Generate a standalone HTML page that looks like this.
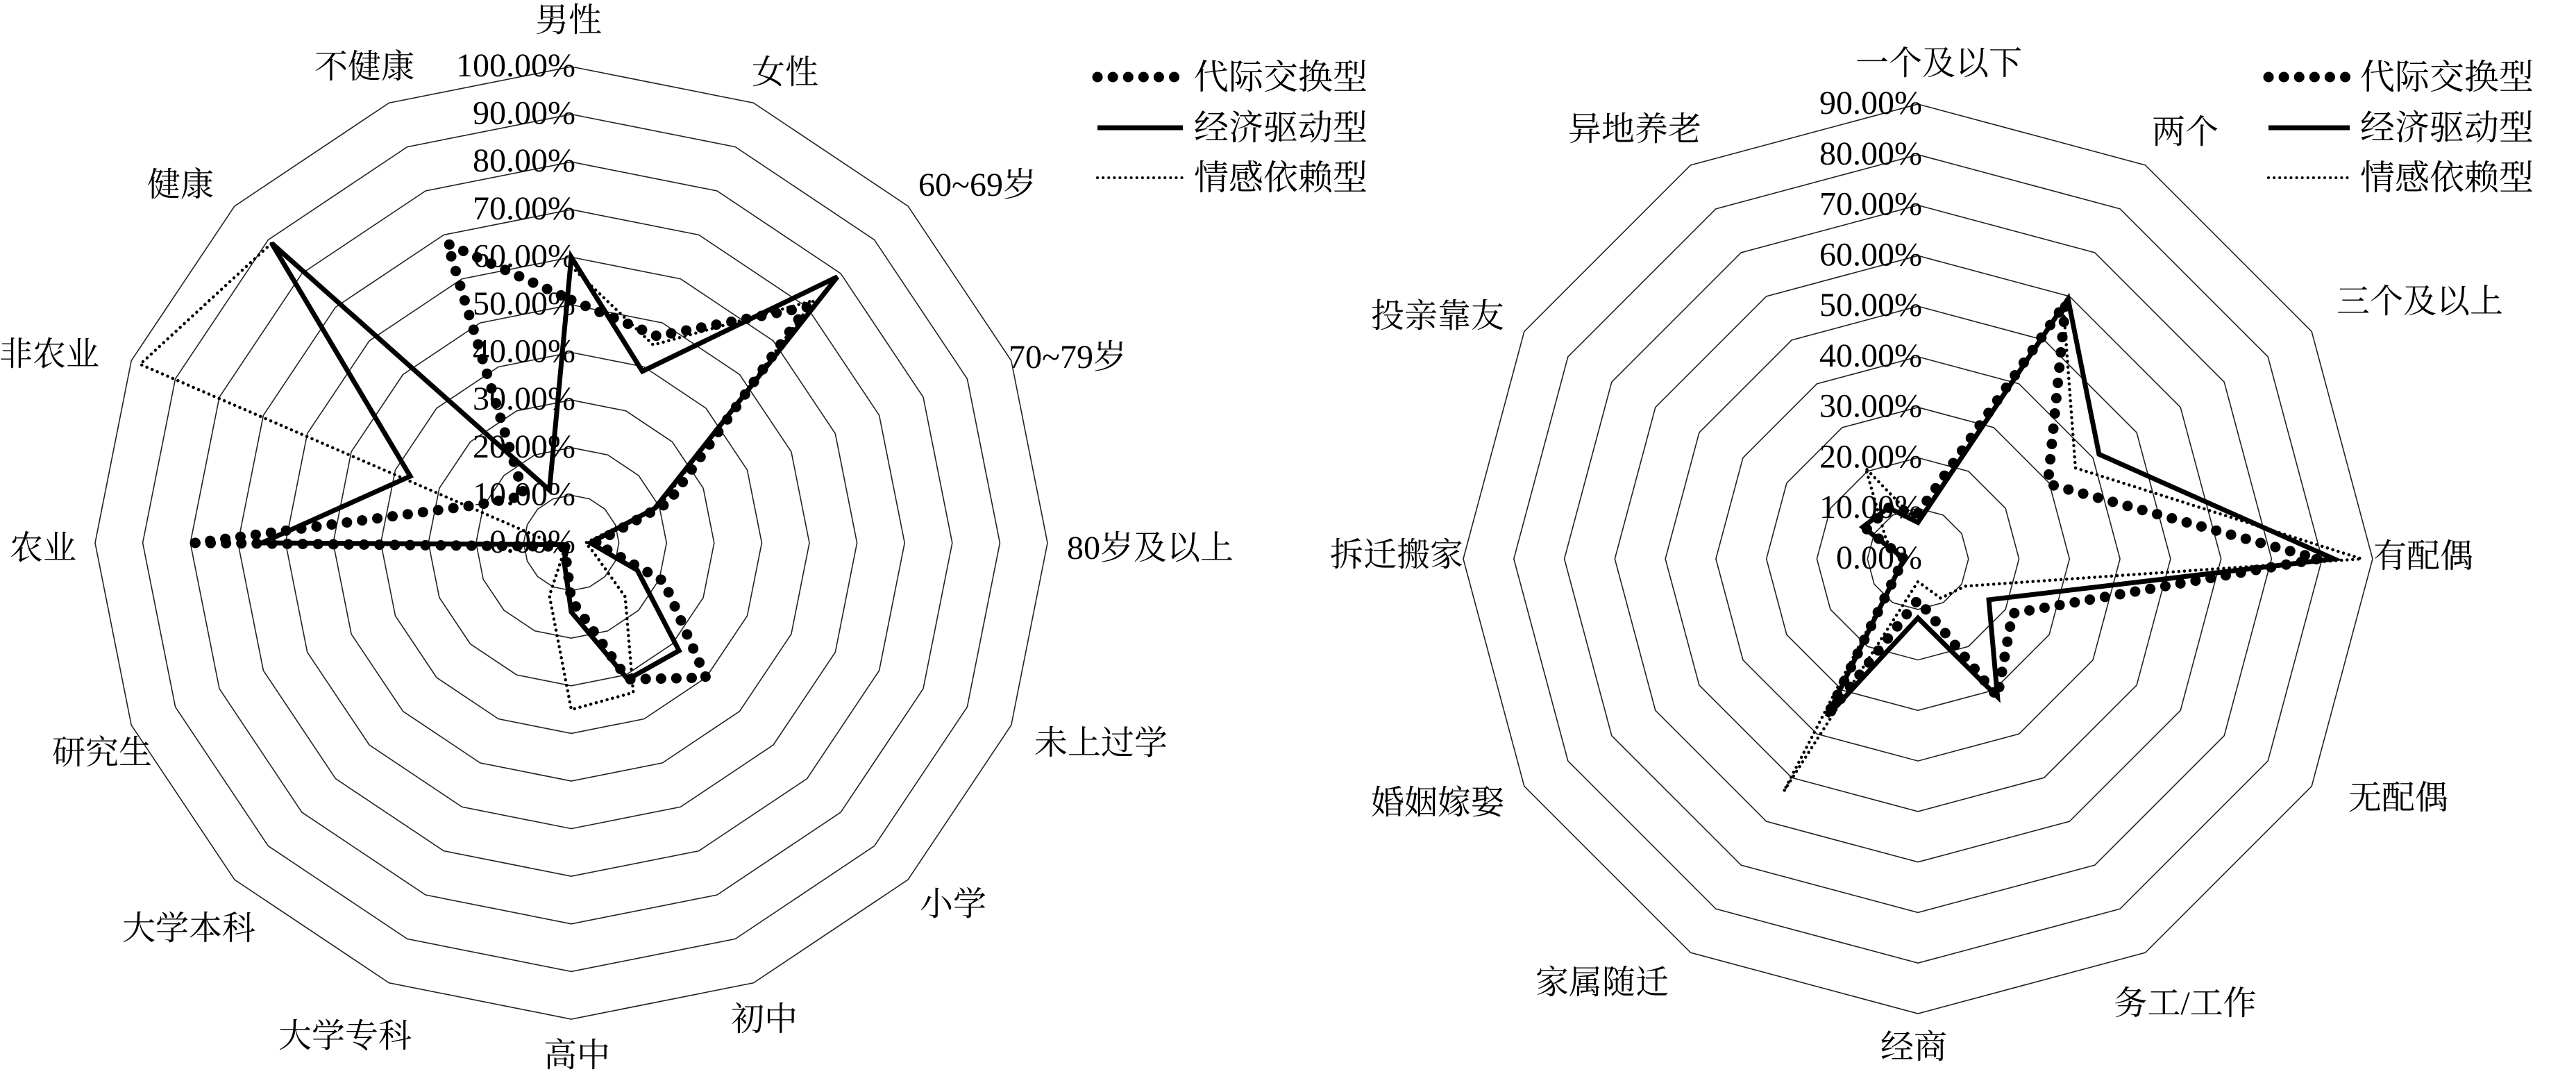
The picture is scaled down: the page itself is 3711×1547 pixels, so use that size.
<!DOCTYPE html>
<html><head><meta charset="utf-8"><style>
html,body{margin:0;padding:0;background:#fff;}
svg{display:block;}
text{font-family:"Liberation Serif","Noto Serif CJK SC","Noto Sans CJK SC",serif;fill:#000;}
</style></head><body>
<svg id="s" xmlns="http://www.w3.org/2000/svg" width="3711" height="1547" viewBox="0 0 3711 1547">
<rect width="3711" height="1547" fill="#fff"/>
<g id="grid"></g>
<g id="series"></g>
<g font-size="48" text-anchor="middle">
<text x="819" y="45">男性</text>
<text x="1131" y="120">女性</text>
<text x="1408" y="282">60~69岁</text>
<text x="1538" y="530">70~79岁</text>
<text x="1657" y="805">80岁及以上</text>
<text x="1586" y="1086">未上过学</text>
<text x="1373" y="1318">小学</text>
<text x="1101" y="1484">初中</text>
<text x="831" y="1536">高中</text>
<text x="497" y="1508">大学专科</text>
<text x="272" y="1353">大学本科</text>
<text x="147" y="1100">研究生</text>
<text x="62" y="805">农业</text>
<text x="71" y="526">非农业</text>
<text x="260" y="282">健康</text>
<text x="525" y="112">不健康</text>

<text x="2793" y="107">一个及以下</text>
<text x="3148" y="206">两个</text>
<text x="3486" y="450">三个及以上</text>
<text x="3491" y="817">有配偶</text>
<text x="3455" y="1165">无配偶</text>
<text x="3148" y="1461">务工/工作</text>
<text x="2757" y="1524">经商</text>
<text x="2308" y="1431">家属随迁</text>
<text x="2071" y="1172">婚姻嫁娶</text>
<text x="2012" y="815">拆迁搬家</text>
<text x="2071" y="471">投亲靠友</text>
<text x="2355" y="202">异地养老</text>
</g>
<g font-size="48" text-anchor="end" id="pl"></g>
<g id="legend">
<line x1="1581" y1="111" x2="1704" y2="111" stroke="#000" stroke-width="15" stroke-linecap="round" stroke-dasharray="0.1 22"/>
<line x1="1581" y1="184" x2="1704" y2="184" stroke="#000" stroke-width="7"/>
<line x1="1581" y1="256" x2="1704" y2="256" stroke="#000" stroke-width="4" stroke-linecap="round" stroke-dasharray="0.1 8"/>
<text x="1720" y="128" font-size="50">代际交换型</text>
<text x="1720" y="201" font-size="50">经济驱动型</text>
<text x="1720" y="273" font-size="50">情感依赖型</text>
<line x1="3268" y1="111" x2="3385" y2="111" stroke="#000" stroke-width="15" stroke-linecap="round" stroke-dasharray="0.1 22"/>
<line x1="3268" y1="184" x2="3385" y2="184" stroke="#000" stroke-width="7"/>
<line x1="3268" y1="256" x2="3385" y2="256" stroke="#000" stroke-width="4" stroke-linecap="round" stroke-dasharray="0.1 8"/>
<text x="3400" y="128" font-size="50">代际交换型</text>
<text x="3400" y="201" font-size="50">经济驱动型</text>
<text x="3400" y="273" font-size="50">情感依赖型</text>
</g>
</svg>
<script>
(function(){
var NS="http://www.w3.org/2000/svg";
var grid=document.getElementById("grid"),ser=document.getElementById("series"),pl=document.getElementById("pl");
function el(t,a,p){var e=document.createElementNS(NS,t);for(var k in a)e.setAttribute(k,a[k]);p.appendChild(e);return e;}
function pts(cx,cy,R,n,vals){var s=[];for(var i=0;i<n;i++){var a=i*2*Math.PI/n;var r=R*vals[i];s.push((cx+r*Math.sin(a)).toFixed(1)+","+(cy-r*Math.cos(a)).toFixed(1));}return s.join(" ");}
function chart(cx,cy,R,n,rings,labels,data){
  for(var k=1;k<=rings;k++){var v=[];for(var i=0;i<n;i++)v.push(k/rings);
    el("polygon",{points:pts(cx,cy,R,n,v),fill:"none",stroke:"#222","stroke-width":1.6},grid);}
  for(var k=0;k<=rings;k++){var t=el("text",{x:cx+6,y:cy-R*k/rings+14},pl);t.textContent=labels[k];}
  var st=[{s:"#000",w:15,d:"0.1 22",c:"round"},{s:"#000",w:7,d:"",c:"butt"},{s:"#000",w:4.5,d:"0.1 8",c:"round"}];
  // draw C, B, A
  [2,1,0].forEach(function(j){var o=st[j];var a={points:pts(cx,cy,R,n,data[j]),fill:"none",stroke:o.s,"stroke-width":o.w,"stroke-linecap":o.c,"stroke-linejoin":"miter"};if(o.d)a["stroke-dasharray"]=o.d;el("polygon",a,ser);});
}
var L=[];for(var k=0;k<=10;k++)L.push((k*10)+".00%");
// left: 男性,女性,60,70,80,未上过学,小学,初中,高中,专科,本科,研究生,农业,非农业,健康,不健康
chart(823,782,686,16,10,L,[
 [0.51,0.47,0.70,0.22,0.05,0.21,0.40,0.31,0.12,0.03,0.02,0.02,0.79,0.21,0.14,0.68],
 [0.60,0.39,0.79,0.19,0.04,0.15,0.32,0.31,0.145,0.04,0.01,0.01,0.65,0.366,0.89,0.12],
 [0.58,0.45,0.72,0.20,0.03,0.05,0.16,0.34,0.35,0.12,0.02,0.02,0.04,0.98,0.89,0.12]
]);
var L2=[];for(var k=0;k<=9;k++)L2.push((k*10)+".00%");
// right: 一个,两个,三个,有配偶,无配偶,务工,经商,家属,婚姻,拆迁,投亲,异地
chart(2763,805,655,12,9,L2,[
 [0.10,0.65,0.33,0.88,0.24,0.35,0.09,0.40,0.05,0.03,0.13,0.13],
 [0.08,0.66,0.46,0.915,0.18,0.35,0.13,0.40,0.05,0.03,0.14,0.13],
 [0.08,0.64,0.40,0.976,0.12,0.10,0.05,0.59,0.05,0.03,0.08,0.23]
]);
})();
</script>
</body></html>
